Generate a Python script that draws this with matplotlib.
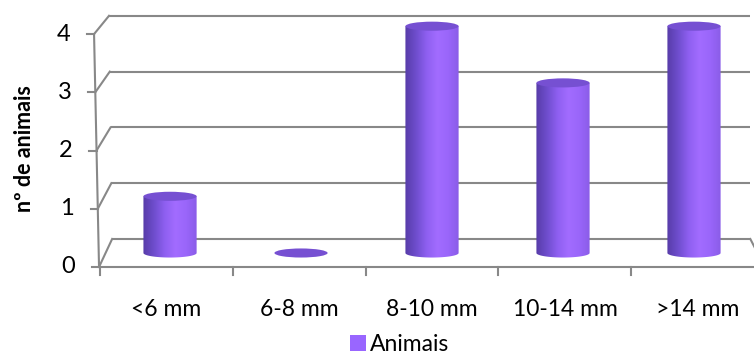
import numpy as np
import matplotlib.pyplot as plt
from matplotlib.colors import LinearSegmentedColormap
from matplotlib.patches import Ellipse, PathPatch, Patch
from matplotlib.path import Path

plt.rcParams['font.family'] = ['Lato', 'DejaVu Sans']

# animals per size class
categories = ['<6 mm', '6-8 mm', '8-10 mm', '10-14 mm', '>14 mm']
animais = [1, 0, 4, 3, 4]
y_ticks = [0, 1, 2, 3, 4]

GRID = '#888888'
TOP = '#7650d2'
body_cmap = LinearSegmentedColormap.from_list(
    'cyl', ['#573ca8', '#6e4dcc', '#8e5ff0', '#a26cff', '#9a66fa', '#8a5ce8'])

fig = plt.figure(figsize=(7.54, 3.58), dpi=100)
ax = fig.add_axes([0, 0, 1, 1])
ax.set_xlim(-1.298, 4.458)
ax.set_ylim(-1.852, 4.462)
ax.axis('off')

# pseudo-3D box: front plane sits lower/wider, back wall higher/narrower
def y_front(v):
    return -0.247 + 1.027 * v

def y_back(v):
    return 0.247 + 0.984 * v

def x_front(u):
    return 2 + 1.015 * (u - 2)

x_fl0, x_fl4 = -0.542, -0.580   # front-left edge, bottom / top
x_bl0, x_bl4 = -0.442, -0.466   # back-left edge, bottom / top
x_br, x_fr = 4.43, 4.54

lw = 1.5
for v in y_ticks:
    xfl = x_fl0 + (x_fl4 - x_fl0) * v / 4
    xbl = x_bl0 + (x_bl4 - x_bl0) * v / 4
    ax.plot([xbl, x_br], [y_back(v), y_back(v)], color=GRID, lw=lw,
            solid_capstyle='butt', clip_on=False)
    ax.plot([xfl, xbl], [y_front(v), y_back(v)], color=GRID, lw=lw, clip_on=False)
    ax.plot([xfl - 0.055, xfl], [y_front(v), y_front(v)], color=GRID, lw=lw)
    ax.text(xfl - 0.18, y_front(v), str(v), ha='right', va='center',
            fontsize=17, color='black')

# front value axis and floor edge
ax.plot([x_fl0, x_fl4], [y_front(0), y_front(4)], color=GRID, lw=lw)
ax.plot([x_fl0, x_fr], [y_front(0), y_front(0)], color=GRID, lw=lw, clip_on=False)
ax.plot([x_br, x_fr], [y_back(0), y_front(0)], color=GRID, lw=lw, clip_on=False)
for k in range(len(categories) + 1):
    xb = x_front(k - 0.5)
    ax.plot([xb, xb], [y_front(0), y_front(0) - 0.14], color=GRID, lw=lw,
            clip_on=False)

for i, lab in enumerate(categories):
    ax.text(x_front(i), -0.99, lab, ha='center', va='center',
            fontsize=16.5, color='black')

ax.text(-1.11, 1.85, 'nº de animais', rotation=90, ha='center', va='center',
        fontsize=15.5, fontweight='bold')

# cylinders
rw, rh = 0.203, 0.08
grad = np.linspace(0, 1, 256).reshape(1, -1)
for i, val in enumerate(animais):
    if val > 0:
        theta = np.linspace(np.pi, 2 * np.pi, 60)
        bx = i + rw * np.cos(theta)
        by = rh * np.sin(theta)
        verts = [(i - rw, val)] + list(zip(bx, by)) + [(i + rw, val), (i - rw, val)]
        codes = [Path.MOVETO] + [Path.LINETO] * (len(verts) - 2) + [Path.CLOSEPOLY]
        clip = PathPatch(Path(verts, codes), facecolor='none', edgecolor='none')
        ax.add_patch(clip)
        im = ax.imshow(grad, cmap=body_cmap, aspect='auto', zorder=3,
                       extent=[i - rw, i + rw, -rh, val], interpolation='bilinear')
        im.set_clip_path(clip)
    ax.add_patch(Ellipse((i, val), 2 * rw, 2 * rh, facecolor=TOP,
                         edgecolor='none', zorder=4))

fig.legend(handles=[Patch(facecolor='#9966ff', edgecolor='none', label='Animais')],
           loc='lower center', bbox_to_anchor=(0.53, -0.05), frameon=False,
           fontsize=16.5, handlelength=0.7, handleheight=0.7, handletextpad=0.2)

fig.savefig('out.png', dpi=100)
